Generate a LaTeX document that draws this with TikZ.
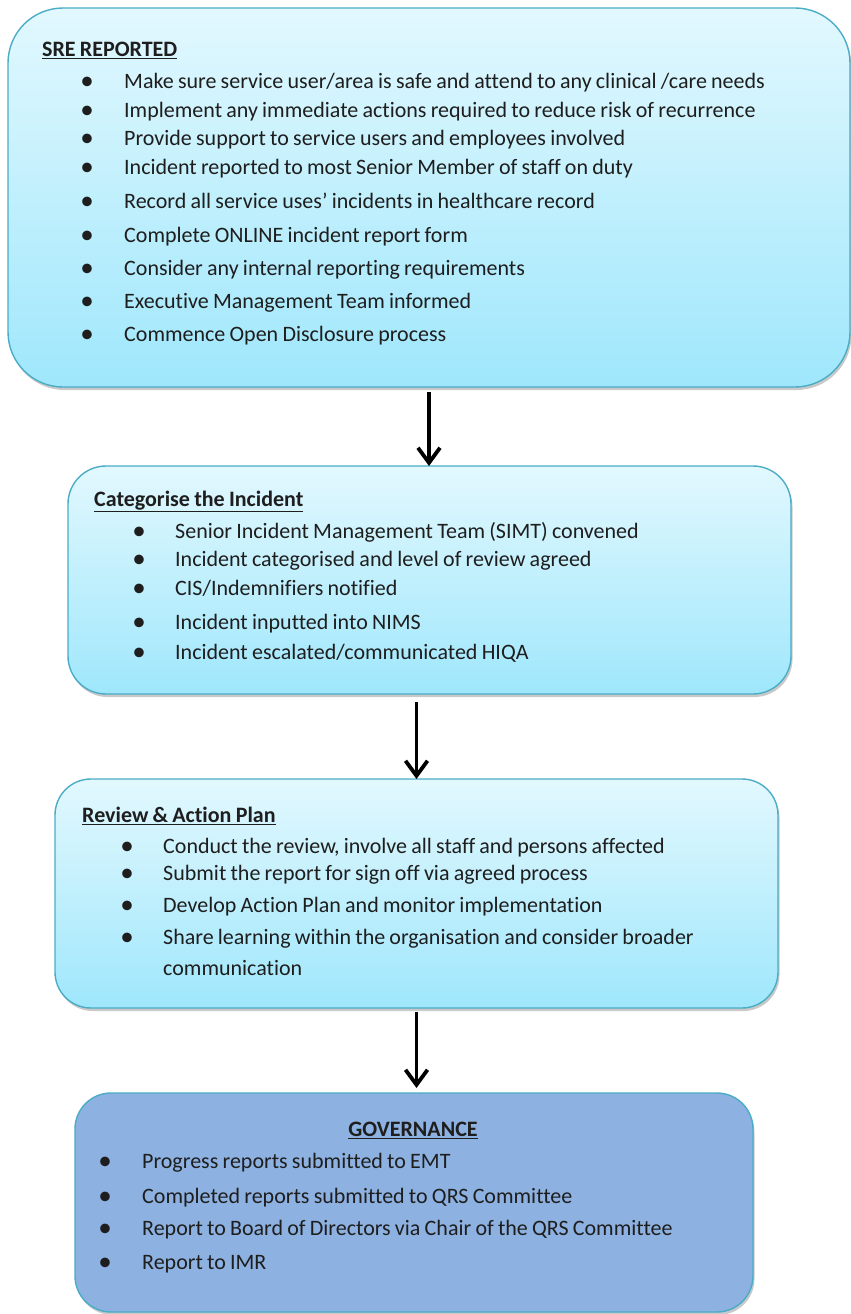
\documentclass[tikz,border=0pt]{standalone}
\usepackage{fontspec}
\setmainfont{Carlito}[RawFeature=-liga, WordSpace=0.85]
\usetikzlibrary{arrows.meta,shadows}
\definecolor{edge}{HTML}{4BACC6}
\definecolor{topc}{HTML}{E2F8FE}
\definecolor{botc}{HTML}{9FE7FC}
\definecolor{govc}{HTML}{8DB1E0}
\definecolor{txt}{HTML}{1E1E1E}
\tikzset{
  panel/.style={draw=edge, line width=1.4pt, inner sep=0pt, outer sep=0pt,
    top color=topc, bottom color=botc,
    drop shadow={shadow xshift=1.5pt, shadow yshift=-3pt, opacity=0.3, fill=black!70}},
  govpanel/.style={draw=edge, line width=1.4pt, inner sep=0pt, outer sep=0pt, fill=govc,
    drop shadow={shadow xshift=1.5pt, shadow yshift=-3pt, opacity=0.3, fill=black!70}},
  line/.style={anchor=mid west, inner sep=0pt, font=\fontsize{22}{26}\selectfont, text=txt},
  head/.style={anchor=mid west, inner sep=0pt, font=\fontsize{22}{26}\selectfont\bfseries, text=txt},
  bul/.style={anchor=center, inner sep=0pt, font=\fontsize{27}{30}\selectfont, text=txt},
  flow/.style={-{Straight Barb[length=15pt,width=22pt,line width=3.8pt]}, line width=3.8pt, black}
}
\newcommand{\ul}[1]{\underline{#1}}
\begin{document}
\begin{tikzpicture}[x=1pt,y=-1pt]
\useasboundingbox (0,0) rectangle (851,1314);
% boxes
\node[panel, rounded corners=55pt, minimum width=842pt, minimum height=379pt] (sre) at (429,197.5) {};
\node[panel, rounded corners=38pt, minimum width=723pt, minimum height=228pt] (cat) at (429.5,580) {};
\node[panel, rounded corners=36pt, minimum width=723pt, minimum height=229pt] (rev) at (416.5,893.5) {};
\node[govpanel, rounded corners=36pt, minimum width=678pt, minimum height=219pt] (gov) at (414,1202.5) {};
% arrows
\draw[flow, shorten <=5pt] (sre.south) -- (sre.south |- cat.north);
\draw[flow, shorten <=8pt] (cat.south -| rev.north) -- (rev.north);
\draw[flow, shorten <=4pt, shorten >=5pt] (rev.south) -- (rev.south |- gov.north);
% box 1
\node[head] (t1) at (42,54) {\ul{SRE REPORTED}};
\foreach \y/\t [count=\i] in {
  86/{Make sure service user/area is safe and attend to any clinical /care needs},
  115/{Implement any immediate actions required to reduce risk of recurrence},
  143/{Provide support to service users and employees involved},
  172/{Incident reported to most Senior Member of staff on duty},
  206/{Record all service uses’ incidents in healthcare record},
  240/{Complete ONLINE incident report form},
  273/{Consider any internal reporting requirements},
  306/{Executive Management Team informed},
  339/{Commence Open Disclosure process}}{
  \node[bul] (b1-\i) at (87,\y-2.5) {\textbullet};
  \node[line] (l1-\i) at (124,\y) {\t};
}
% box 2
\node[head] (t2) at (94,504) {\ul{Categorise the Incident}};
\foreach \y/\t [count=\i] in {
  536/{Senior Incident Management Team (SIMT) convened},
  564/{Incident categorised and level of review agreed},
  593/{CIS/Indemnifiers notified},
  627/{Incident inputted into NIMS},
  657/{Incident escalated/communicated HIQA}}{
  \node[bul] (b2-\i) at (139,\y-2.5) {\textbullet};
  \node[line] (l2-\i) at (175,\y) {\t};
}
% box 3
\node[head] (t3) at (82,820) {\ul{Review \& Action Plan}};
\foreach \y/\t [count=\i] in {
  851/{Conduct the review, involve all staff and persons affected},
  878/{Submit the report for sign off via agreed process},
  910/{Develop Action Plan and monitor implementation},
  942/{Share learning within the organisation and consider broader}}{
  \node[bul] (b3-\i) at (127,\y-2.5) {\textbullet};
  \node[line] (l3-\i) at (163,\y) {\t};
}
\node[line] (l3-5) at (163,973) {communication};
% box 4
\node[head, anchor=mid] (t4) at (413,1134) {\ul{GOVERNANCE}};
\foreach \y/\t [count=\i] in {
  1166/{Progress reports submitted to EMT},
  1201/{Completed reports submitted to QRS Committee},
  1233/{Report to Board of Directors via Chair of the QRS Committee},
  1267/{Report to IMR}}{
  \node[bul] (b4-\i) at (105,\y-2.5) {\textbullet};
  \node[line] (l4-\i) at (142,\y) {\t};
}
\end{tikzpicture}
\end{document}
